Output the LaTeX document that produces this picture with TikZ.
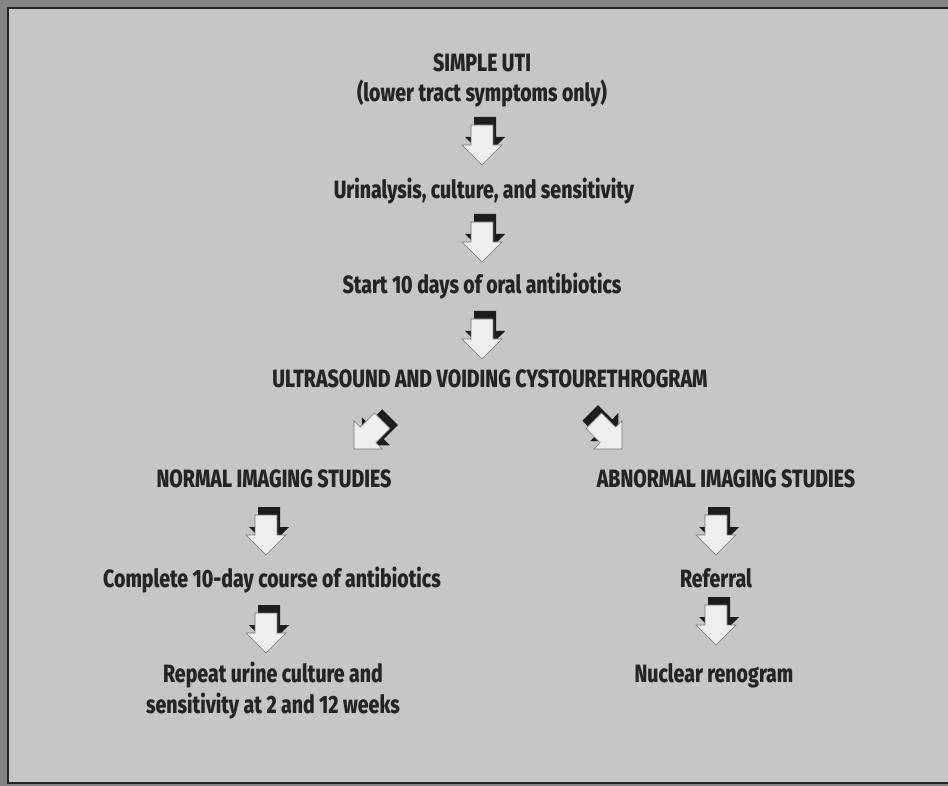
\documentclass[tikz,border=0pt]{standalone}
\usepackage{fontspec}
\usepackage{tikz}
\newfontfamily\chartfont{Fira Sans ExtraBold}[FakeStretch=0.78]

\definecolor{panelgray}{HTML}{C6C6C6}
\definecolor{framegray}{HTML}{858585}
\definecolor{inkgray}{HTML}{242424}
\definecolor{arrowwhite}{HTML}{EEEEEE}
\definecolor{arrowshade}{HTML}{1C1C1C}

\tikzset{
    steptext/.style={text=inkgray, font=\chartfont\fontsize{25}{31}\selectfont, inner sep=0pt, anchor=base},
    pics/flowarrow/.style={code={
        \fill[arrowshade, shift={(3,-8)}] (0,0) -- (-20,-20) -- (-11,-20) -- (-11,-40) -- (11,-40) -- (11,-20) -- (20,-20) -- cycle;
        \draw[fill=arrowwhite, draw=black!55, line width=0.6pt] (0,0) -- (-20,-20) -- (-11,-20) -- (-11,-40) -- (11,-40) -- (11,-20) -- (20,-20) -- cycle;
    }}
}

\begin{document}
\begin{tikzpicture}[x=1pt, y=-1pt]
    \useasboundingbox (0,0) rectangle (948,786);
    \fill[framegray] (0,0) rectangle (948,786);
    \fill[panelgray] (8,8) rectangle (948,783);
    \draw[inkgray, line width=1.5pt] (948,8) -- (8,8) -- (8,783) -- (948,783);

    \node[steptext] (uti) at (482,72) {SIMPLE UTI};
    \node[steptext] (utinote) at (482,102) {(lower tract symptoms only)};
    \node[steptext] (urine) at (484,199) {Urinalysis, culture, and sensitivity};
    \node[steptext] (start) at (482,294) {Start 10 days of oral antibiotics};
    \node[steptext] (imaging) at (490,387) {ULTRASOUND AND VOIDING CYSTOURETHROGRAM};
    \node[steptext] (normal) at (274,487) {NORMAL IMAGING STUDIES};
    \node[steptext] (abnormal) at (726,487) {ABNORMAL IMAGING STUDIES};
    \node[steptext] (course) at (272,587) {Complete 10-day course of antibiotics};
    \node[steptext] (referral) at (716,587) {Referral};
    \node[steptext] (repeat) at (273,682) {Repeat urine culture and};
    \node[steptext] (repeatnote) at (273,713) {sensitivity at 2 and 12 weeks};
    \node[steptext] (renogram) at (714,682) {Nuclear renogram};

    \pic at (482,165) {flowarrow};
    \pic at (482,262) {flowarrow};
    \pic at (482,359) {flowarrow};
    \pic[rotate=-45] at (354,449) {flowarrow};
    \pic[rotate=45] at (622,449) {flowarrow};
    \pic at (266,555) {flowarrow};
    \pic at (266,653) {flowarrow};
    \pic at (716,555) {flowarrow};
    \pic at (716,645) {flowarrow};
\end{tikzpicture}
\end{document}
